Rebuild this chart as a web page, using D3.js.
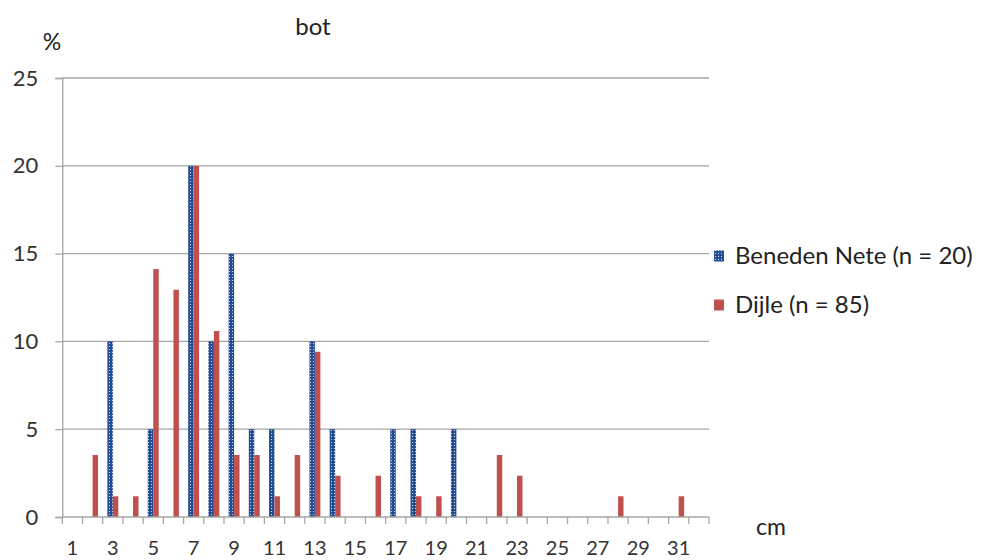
<!DOCTYPE html>
<html>
<head>
<meta charset="utf-8">
<script src="https://cdn.jsdelivr.net/npm/d3@7"></script>
<style>
html,body{margin:0;padding:0;background:#fff;}
svg{display:block;font-family:Lato,"Open Sans",sans-serif;}
</style>
</head>
<body>
<svg id="chart" width="981" height="560"></svg>
<script>
const categories = d3.range(1, 33).map(String);
const tickLabels = ["1","3","5","7","9","11","13","15","17","19","21","23","25","27","29","31"];
const yTicks = [0, 5, 10, 15, 20, 25];
const seriesNames = ["Beneden Nete (n = 20)", "Dijle (n = 85)"];
// Beneden Nete, percentages per cm class
const benedenNete = [0,0,10,0,5,0,20,10,15,5,5,0,10,5,0,0,5,5,0,5,0,0,0,0,0,0,0,0,0,0,0,0];
// Dijle, percentages per cm class
const dijle = [0,3.53,1.18,1.18,14.12,12.94,20,10.59,3.53,3.53,1.18,3.53,9.41,2.35,0,2.35,0,1.18,1.18,0,0,3.53,2.35,0,0,0,0,1.18,0,0,1.18,0];

const svg = d3.select("#chart");
const mLeft = 62.3, mRight = 709, mTop = 78, mBottom = 517;
const textCol = "#333";

const defs = svg.append("defs");
const pat = defs.append("pattern").attr("id","dots").attr("patternUnits","userSpaceOnUse")
  .attr("width",3).attr("height",3);
pat.append("rect").attr("width",3).attr("height",3).attr("fill","#244d92");
pat.append("rect").attr("x",1).attr("y",1).attr("width",1).attr("height",1).attr("fill","#c9d6ec");

const x = d3.scaleBand().domain(categories).range([mLeft, mRight]).paddingInner(0.46).paddingOuter(0.23);
const xs = d3.scaleBand().domain([0,1]).range([0, x.bandwidth()]);
const y = d3.scaleLinear().domain([0, 25]).range([mBottom, mTop]);

const grid = "#a6a6a6";
// gridlines
svg.append("g").selectAll("line").data(yTicks.filter(d=>d>0)).join("line")
  .attr("x1", mLeft).attr("x2", mRight).attr("y1", d=>y(d)).attr("y2", d=>y(d))
  .attr("stroke", grid).attr("stroke-width", 1.3);

// y axis
const yAxis = d3.axisLeft(y).tickValues(yTicks).tickSize(7).tickPadding(17);
const gy = svg.append("g").attr("transform", `translate(${mLeft},0)`).call(yAxis);
gy.select(".domain").attr("stroke", grid).attr("stroke-width",1.3);
gy.selectAll(".tick line").attr("stroke", grid).attr("stroke-width",1.3);
gy.selectAll(".tick text").attr("font-size", 22).attr("fill", textCol).attr("font-family","Lato,'Open Sans',sans-serif");

// bars
const data = [benedenNete, dijle];
const fills = ["url(#dots)", "#c0504d"];
data.forEach((vals, si) => {
  svg.append("g").selectAll("rect").data(vals.map((v,i)=>({c:categories[i], v}))).join("rect")
    .attr("x", d => x(d.c) + xs(si))
    .attr("y", d => y(d.v))
    .attr("width", xs.bandwidth())
    .attr("height", d => y(0) - y(d.v))
    .attr("fill", fills[si]);
});

// x axis
const xb = d3.scalePoint().domain(d3.range(0,33)).range([mLeft, mRight]);
const gx = svg.append("g").attr("transform", `translate(0,${mBottom})`);
gx.append("line").attr("x1", mLeft).attr("x2", mRight).attr("stroke", grid).attr("stroke-width",1.3);
gx.selectAll("line.t").data(d3.range(0,33)).join("line").attr("class","t")
  .attr("x1", d=>xb(d)).attr("x2", d=>xb(d)).attr("y1",0).attr("y2",7)
  .attr("stroke", grid).attr("stroke-width",1.3);
gx.selectAll("text").data(tickLabels).join("text")
  .attr("x", d => x(d) + x.bandwidth()/2).attr("y", 38)
  .attr("text-anchor","middle").attr("font-size", 20).attr("fill",textCol).text(d=>d);

// titles
svg.append("text").attr("x", 313).attr("y", 35).attr("text-anchor","middle").attr("font-size", 24).attr("fill","#222").text("bot");
svg.append("text").attr("x", 52).attr("y", 50).attr("text-anchor","middle").attr("font-size", 23).attr("fill","#222").text("%");
svg.append("text").attr("x", 771).attr("y", 535).attr("text-anchor","middle").attr("font-size", 23).attr("fill","#222").text("cm");

// legend
const lg = svg.append("g");
const ly = [256, 305];
seriesNames.forEach((n,i)=>{
  lg.append("rect").attr("x",714).attr("y",ly[i]-5.5).attr("width",10).attr("height",11).attr("fill",fills[i]);
  lg.append("text").attr("x",735).attr("y",ly[i]+8).attr("font-size",24).attr("fill","#222").text(n);
});
</script>
</body>
</html>
